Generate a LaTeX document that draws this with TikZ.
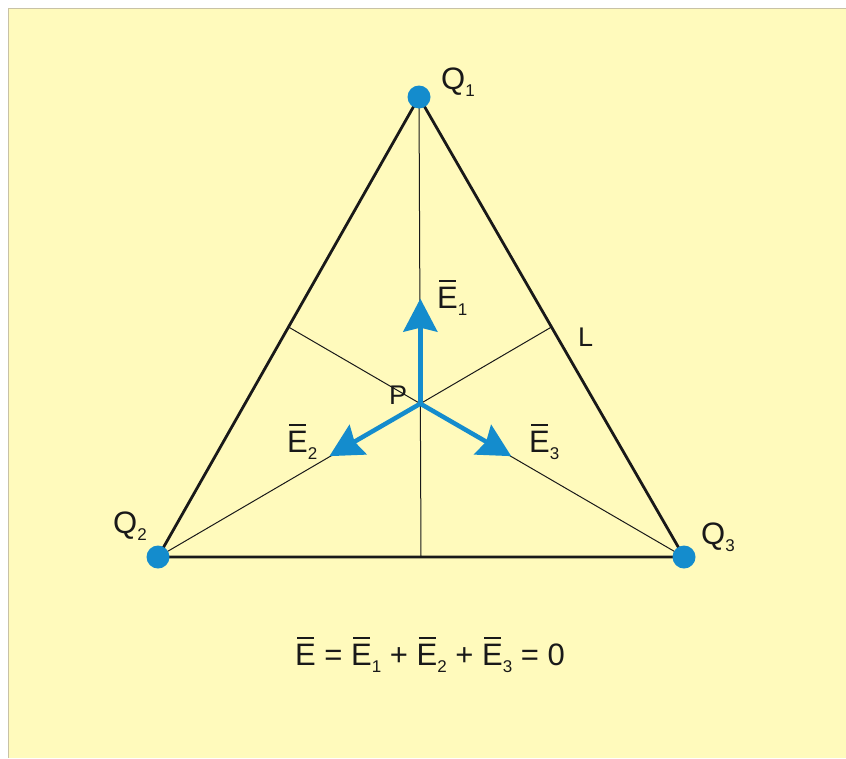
\documentclass[tikz,border=0pt]{standalone}
\usepackage{fontspec}
\setmainfont{Liberation Sans}
\usetikzlibrary{calc,arrows.meta}
\definecolor{bgyellow}{RGB}{255,250,188}
\definecolor{edgegrey}{RGB}{200,194,165}
\definecolor{chargeblue}{RGB}{20,140,205}
\definecolor{linedark}{RGB}{25,25,25}
\newcommand{\barE}{\makebox[0pt][l]{\hspace{0.07em}\rule[0.84em]{0.55em}{0.07em}}E}
\newcommand{\mysub}[1]{\raisebox{-0.25em}{\fontsize{17}{17}\selectfont #1}}
\begin{document}
\begin{tikzpicture}[x=1pt,y=-1pt,
  side/.style={line width=2.8pt,draw=linedark},
  median/.style={line width=1pt,draw=linedark},
  charge/.style={circle,fill=chargeblue,minimum size=23pt,inner sep=0pt},
  field/.style={line width=4.5pt,draw=chargeblue,-{Stealth[length=33pt,width=34pt,inset=4pt]}},
  lbl/.style={anchor=base west,inner sep=0pt,font=\fontsize{31}{31}\selectfont,text=linedark},
  small/.style={anchor=base west,inner sep=0pt,font=\fontsize{27}{27}\selectfont,text=linedark}]
\useasboundingbox (0,0) rectangle (846,758);
\fill[white] (0,0) rectangle (846,758);
\fill[bgyellow] (8,8) rectangle (846,758);
\draw[edgegrey,line width=1.5pt] (8.5,758) -- (8.5,8.5) -- (846,8.5);
% charges (positions)
\coordinate (Q1c) at (419,97);
\coordinate (Q2c) at (158,557);
\coordinate (Q3c) at (684,557);
\coordinate (P) at ($1/3*(Q1c)+1/3*(Q2c)+1/3*(Q3c)$);
\coordinate (M1) at ($(Q2c)!0.5!(Q3c)$);
\coordinate (M2) at ($(Q1c)!0.5!(Q3c)$);
\coordinate (M3) at ($(Q1c)!0.5!(Q2c)$);
% medians
\draw[median] (Q1c) -- (M1);
\draw[median] (Q2c) -- (M2);
\draw[median] (Q3c) -- (M3);
% triangle
\draw[side,line join=round] (Q1c) -- (Q2c) -- (Q3c) -- cycle;
% charges
\node[charge] (Q1) at (Q1c) {};
\node[charge] (Q2) at (Q2c) {};
\node[charge] (Q3) at (Q3c) {};
% field vectors
\coordinate (T1) at ($(P)+(270:105)$);
\coordinate (T2) at ($(P)+(150:105)$);
\coordinate (T3) at ($(P)+(30:105)$);
\draw[field] (P) -- (T1);
\draw[field] (P) -- (T2);
\draw[field] (P) -- (T3);
% labels
\node[lbl] (LQ1) at (441,89) {Q\mysub{1}};
\node[lbl] (LQ2) at (113,533) {Q\mysub{2}};
\node[lbl] (LQ3) at (701,544) {Q\mysub{3}};
\node[lbl] (LE1) at (437,308) {\barE\mysub{1}};
\node[lbl] (LE2) at (287,452) {\barE\mysub{2}};
\node[lbl] (LE3) at (529,452) {\barE\mysub{3}};
\node[small] (LP) at (389,404) {P};
\node[small] (LL) at (578,346) {L};
\node[lbl] (F) at (295,665) {\barE{} = \barE\mysub{1} + \barE\mysub{2} + \barE\mysub{3} = 0};
\end{tikzpicture}
\end{document}
